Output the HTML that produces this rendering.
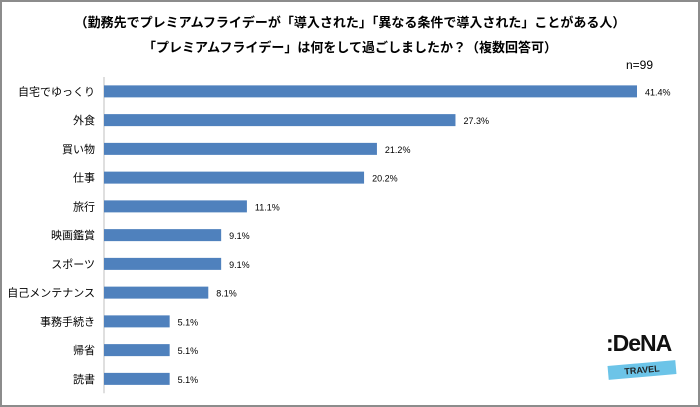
<!DOCTYPE html>
<html><head><meta charset="utf-8"><style>
body{margin:0;width:700px;height:407px;background:#fff;overflow:hidden;font-family:"Liberation Sans","Noto Sans CJK JP",sans-serif}
#frame{position:absolute;left:0;top:0;width:696px;height:403px;border:2px solid #8c8c8c}
.t{position:absolute;left:0;width:700px;text-align:center;font-size:13px;font-weight:bold;color:#000}
</style></head><body>
<div id="frame"></div>
<div class="t" style="top:12px">（勤務先でプレミアムフライデーが「導入された」「異なる条件で導入された」ことがある人）</div>
<div class="t" style="top:37px">「プレミアムフライデー」は何をして過ごしましたか？（複数回答可）</div>
<div style="position:absolute;left:626px;top:58px;font-size:12px">n=99</div>
<svg id="c" width="700" height="407" style="position:absolute;left:0;top:0"></svg>
<div style="position:absolute;left:602px;top:330px;width:84px;height:56px">
<div style="position:absolute;left:4px;top:0;font-size:23px;font-weight:bold;letter-spacing:-1px;color:#111">:DeNA</div>
<div style="position:absolute;left:6px;top:33px;width:68px;height:14px;background:#6cc4e8;transform:rotate(-5deg);text-align:center;font-size:9px;font-weight:bold;line-height:14px;color:#222">TRAVEL</div>
</div>
<script>
const categories=["自宅でゆっくり","外食","買い物","仕事","旅行","映画鑑賞","スポーツ","自己メンテナンス","事務手続き","帰省","読書"];
const values=[41.4,27.3,21.2,20.2,11.1,9.1,9.1,8.1,5.1,5.1,5.1];
const svg=document.getElementById('c');
const NS='http://www.w3.org/2000/svg';
const x0=104,pxPer=533/41.4,yTop=77,rowH=28.75,barH=12;
const xs=v=>x0+v*pxPer;
const yc=i=>yTop+rowH*(i+0.5);
function mk(t,a){const e=document.createElementNS(NS,t);for(const k in a)e.setAttribute(k,a[k]);svg.appendChild(e);return e;}
const ax=mk('line',{x1:x0,x2:x0,y1:yTop,y2:yTop+rowH*categories.length,stroke:'#bfbfbf','stroke-width':1});


categories.forEach((c,i)=>{
 const r=mk('rect',{x:x0,y:yc(i)-barH/2,width:xs(values[i])-x0,height:barH,fill:'#4f81bd'});
 
 
 const l=mk('text',{x:x0-9,y:yc(i)+4,'text-anchor':'end','font-size':11,fill:'#000'});
 l.textContent=c;
 
 
 const v=mk('text',{x:xs(values[i])+8,y:yc(i)+4,'font-size':9,fill:'#000'});
 v.textContent=values[i].toFixed(1)+'%';
 
 
});
</script>
</body></html>
